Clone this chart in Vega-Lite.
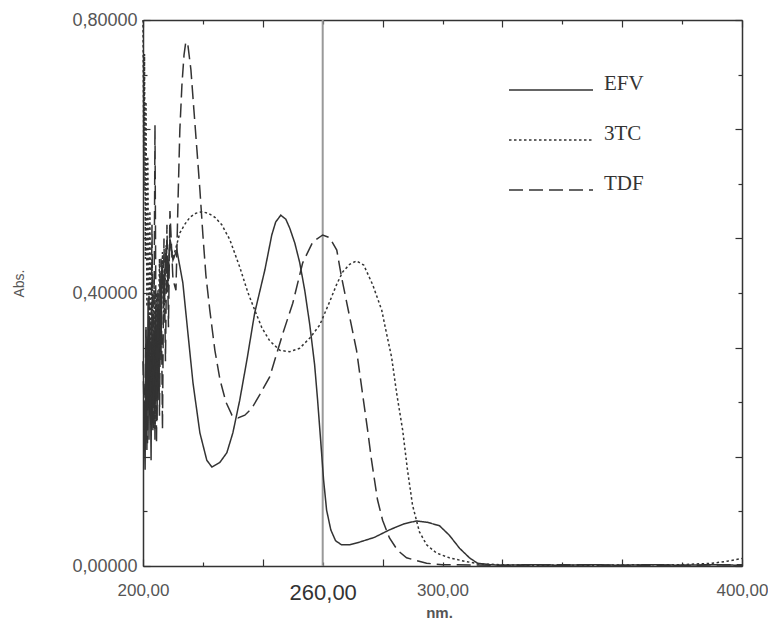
{
  "$schema": "https://vega.github.io/schema/vega-lite/v6.json",
  "width": 599,
  "height": 546,
  "autosize": "none",
  "padding": {"left": 143, "top": 20, "right": 26, "bottom": 55},
  "background": "white",
  "config": {"view": {"stroke": null}, "font": "Liberation Sans", "axis": {"grid": false}},
  "datasets": {
    "spectra": [
      {"drug":"EFV","nm":200.3,"abs":0.243},{"drug":"EFV","nm":200.7,"abs":0.141},{"drug":"EFV","nm":201,"abs":0.346},{"drug":"EFV","nm":201.3,"abs":0.17},{"drug":"EFV","nm":201.7,"abs":0.39},{"drug":"EFV","nm":202,"abs":0.185},{"drug":"EFV","nm":202.3,"abs":0.36},{"drug":"EFV","nm":202.7,"abs":0.155},{"drug":"EFV","nm":203,"abs":0.375},{"drug":"EFV","nm":203.3,"abs":0.199},{"drug":"EFV","nm":203.7,"abs":0.36},{"drug":"EFV","nm":204,"abs":0.185},{"drug":"EFV","nm":204.3,"abs":0.39},{"drug":"EFV","nm":204.7,"abs":0.214},{"drug":"EFV","nm":205,"abs":0.404},{"drug":"EFV","nm":205.3,"abs":0.243},{"drug":"EFV","nm":205.7,"abs":0.419},{"drug":"EFV","nm":206,"abs":0.302},{"drug":"EFV","nm":206.3,"abs":0.448},{"drug":"EFV","nm":207,"abs":0.39},{"drug":"EFV","nm":207.7,"abs":0.463},{"drug":"EFV","nm":208.3,"abs":0.419},{"drug":"EFV","nm":209,"abs":0.478},{"drug":"EFV","nm":210,"abs":0.448},{"drug":"EFV","nm":211.3,"abs":0.463},{"drug":"EFV","nm":213.3,"abs":0.415},{"drug":"EFV","nm":215,"abs":0.341},{"drug":"EFV","nm":216.7,"abs":0.268},{"drug":"EFV","nm":219,"abs":0.195},{"drug":"EFV","nm":221.3,"abs":0.155},{"drug":"EFV","nm":223,"abs":0.145},{"drug":"EFV","nm":225.7,"abs":0.152},{"drug":"EFV","nm":228,"abs":0.166},{"drug":"EFV","nm":230,"abs":0.195},{"drug":"EFV","nm":232.3,"abs":0.243},{"drug":"EFV","nm":234.7,"abs":0.302},{"drug":"EFV","nm":237.3,"abs":0.371},{"drug":"EFV","nm":240.7,"abs":0.434},{"drug":"EFV","nm":243,"abs":0.485},{"drug":"EFV","nm":244.3,"abs":0.504},{"drug":"EFV","nm":246,"abs":0.514},{"drug":"EFV","nm":247.7,"abs":0.508},{"drug":"EFV","nm":249,"abs":0.495},{"drug":"EFV","nm":250.7,"abs":0.473},{"drug":"EFV","nm":252.3,"abs":0.445},{"drug":"EFV","nm":254,"abs":0.404},{"drug":"EFV","nm":255.7,"abs":0.353},{"drug":"EFV","nm":257.3,"abs":0.295},{"drug":"EFV","nm":258.3,"abs":0.243},{"drug":"EFV","nm":259.3,"abs":0.185},{"drug":"EFV","nm":260.3,"abs":0.126},{"drug":"EFV","nm":261.3,"abs":0.082},{"drug":"EFV","nm":262.7,"abs":0.053},{"drug":"EFV","nm":264.3,"abs":0.037},{"drug":"EFV","nm":266.3,"abs":0.031},{"drug":"EFV","nm":269,"abs":0.031},{"drug":"EFV","nm":272.3,"abs":0.035},{"drug":"EFV","nm":277.3,"abs":0.042},{"drug":"EFV","nm":282.3,"abs":0.053},{"drug":"EFV","nm":287.3,"abs":0.062},{"drug":"EFV","nm":291.3,"abs":0.066},{"drug":"EFV","nm":295,"abs":0.064},{"drug":"EFV","nm":299,"abs":0.059},{"drug":"EFV","nm":302.3,"abs":0.045},{"drug":"EFV","nm":305.7,"abs":0.026},{"drug":"EFV","nm":309,"abs":0.012},{"drug":"EFV","nm":311.7,"abs":0.004},{"drug":"EFV","nm":315.7,"abs":0.002},{"drug":"EFV","nm":320,"abs":0.001},{"drug":"EFV","nm":330,"abs":0.002},{"drug":"EFV","nm":340,"abs":0.001},{"drug":"EFV","nm":350,"abs":0.002},{"drug":"EFV","nm":360,"abs":0.001},{"drug":"EFV","nm":370,"abs":0.002},{"drug":"EFV","nm":380,"abs":0.001},{"drug":"EFV","nm":390,"abs":0.002},{"drug":"EFV","nm":400,"abs":0.001},
      {"drug":"3TC","nm":200,"abs":0.8},{"drug":"3TC","nm":200.3,"abs":0.55},{"drug":"3TC","nm":200.5,"abs":0.75},{"drug":"3TC","nm":200.8,"abs":0.45},{"drug":"3TC","nm":201,"abs":0.68},{"drug":"3TC","nm":201.3,"abs":0.38},{"drug":"3TC","nm":201.6,"abs":0.6},{"drug":"3TC","nm":202,"abs":0.3},{"drug":"3TC","nm":202.3,"abs":0.52},{"drug":"3TC","nm":202.7,"abs":0.22},{"drug":"3TC","nm":203,"abs":0.45},{"drug":"3TC","nm":203.3,"abs":0.25},{"drug":"3TC","nm":203.7,"abs":0.42},{"drug":"3TC","nm":204,"abs":0.2},{"drug":"3TC","nm":204.5,"abs":0.4},{"drug":"3TC","nm":205,"abs":0.28},{"drug":"3TC","nm":205.5,"abs":0.45},{"drug":"3TC","nm":206,"abs":0.32},{"drug":"3TC","nm":206.5,"abs":0.46},{"drug":"3TC","nm":207,"abs":0.36},{"drug":"3TC","nm":207.7,"abs":0.47},{"drug":"3TC","nm":208.3,"abs":0.4},{"drug":"3TC","nm":209,"abs":0.48},{"drug":"3TC","nm":210,"abs":0.45},{"drug":"3TC","nm":212.3,"abs":0.488},{"drug":"3TC","nm":214,"abs":0.501},{"drug":"3TC","nm":215.7,"abs":0.511},{"drug":"3TC","nm":217.7,"abs":0.517},{"drug":"3TC","nm":219.7,"abs":0.519},{"drug":"3TC","nm":221.7,"abs":0.517},{"drug":"3TC","nm":224,"abs":0.511},{"drug":"3TC","nm":226.3,"abs":0.5},{"drug":"3TC","nm":229,"abs":0.478},{"drug":"3TC","nm":232.3,"abs":0.438},{"drug":"3TC","nm":235,"abs":0.401},{"drug":"3TC","nm":237.3,"abs":0.375},{"drug":"3TC","nm":239.7,"abs":0.349},{"drug":"3TC","nm":242.3,"abs":0.33},{"drug":"3TC","nm":245.7,"abs":0.316},{"drug":"3TC","nm":249,"abs":0.314},{"drug":"3TC","nm":252.3,"abs":0.319},{"drug":"3TC","nm":255.7,"abs":0.334},{"drug":"3TC","nm":259,"abs":0.353},{"drug":"3TC","nm":262.3,"abs":0.387},{"drug":"3TC","nm":264.7,"abs":0.413},{"drug":"3TC","nm":266.7,"abs":0.431},{"drug":"3TC","nm":269,"abs":0.442},{"drug":"3TC","nm":271.3,"abs":0.447},{"drug":"3TC","nm":273.7,"abs":0.441},{"drug":"3TC","nm":276.7,"abs":0.412},{"drug":"3TC","nm":279.7,"abs":0.375},{"drug":"3TC","nm":281.3,"abs":0.341},{"drug":"3TC","nm":283,"abs":0.306},{"drug":"3TC","nm":284.7,"abs":0.253},{"drug":"3TC","nm":286.7,"abs":0.199},{"drug":"3TC","nm":288.3,"abs":0.141},{"drug":"3TC","nm":290,"abs":0.089},{"drug":"3TC","nm":292.3,"abs":0.05},{"drug":"3TC","nm":294.7,"abs":0.031},{"drug":"3TC","nm":298,"abs":0.019},{"drug":"3TC","nm":302.3,"abs":0.012},{"drug":"3TC","nm":307.3,"abs":0.007},{"drug":"3TC","nm":312.3,"abs":0.003},{"drug":"3TC","nm":319,"abs":0.002},{"drug":"3TC","nm":330,"abs":0.001},{"drug":"3TC","nm":350,"abs":0.001},{"drug":"3TC","nm":370,"abs":0.002},{"drug":"3TC","nm":380,"abs":0.002},{"drug":"3TC","nm":390,"abs":0.004},{"drug":"3TC","nm":395,"abs":0.007},{"drug":"3TC","nm":400,"abs":0.011},
      {"drug":"TDF","nm":200,"abs":0.3},{"drug":"TDF","nm":200.5,"abs":0.2},{"drug":"TDF","nm":201,"abs":0.35},{"drug":"TDF","nm":201.5,"abs":0.18},{"drug":"TDF","nm":202,"abs":0.4},{"drug":"TDF","nm":202.5,"abs":0.22},{"drug":"TDF","nm":203,"abs":0.5},{"drug":"TDF","nm":203.5,"abs":0.2},{"drug":"TDF","nm":204,"abs":0.646},{"drug":"TDF","nm":204.5,"abs":0.18},{"drug":"TDF","nm":205,"abs":0.4},{"drug":"TDF","nm":205.5,"abs":0.22},{"drug":"TDF","nm":206,"abs":0.45},{"drug":"TDF","nm":206.5,"abs":0.2},{"drug":"TDF","nm":207,"abs":0.48},{"drug":"TDF","nm":207.5,"abs":0.3},{"drug":"TDF","nm":208,"abs":0.5},{"drug":"TDF","nm":208.5,"abs":0.35},{"drug":"TDF","nm":209,"abs":0.52},{"drug":"TDF","nm":210,"abs":0.42},{"drug":"TDF","nm":211,"abs":0.404},{"drug":"TDF","nm":211.7,"abs":0.536},{"drug":"TDF","nm":212.3,"abs":0.639},{"drug":"TDF","nm":213,"abs":0.705},{"drug":"TDF","nm":213.7,"abs":0.749},{"drug":"TDF","nm":214.3,"abs":0.768},{"drug":"TDF","nm":215,"abs":0.763},{"drug":"TDF","nm":216,"abs":0.727},{"drug":"TDF","nm":217,"abs":0.668},{"drug":"TDF","nm":218,"abs":0.61},{"drug":"TDF","nm":219,"abs":0.551},{"drug":"TDF","nm":220,"abs":0.485},{"drug":"TDF","nm":221,"abs":0.426},{"drug":"TDF","nm":222.3,"abs":0.375},{"drug":"TDF","nm":224,"abs":0.316},{"drug":"TDF","nm":225.7,"abs":0.273},{"drug":"TDF","nm":227.7,"abs":0.24},{"drug":"TDF","nm":229.7,"abs":0.221},{"drug":"TDF","nm":231.7,"abs":0.217},{"drug":"TDF","nm":234,"abs":0.221},{"drug":"TDF","nm":236.3,"abs":0.231},{"drug":"TDF","nm":239,"abs":0.251},{"drug":"TDF","nm":242.3,"abs":0.277},{"drug":"TDF","nm":246.7,"abs":0.341},{"drug":"TDF","nm":250,"abs":0.385},{"drug":"TDF","nm":253.3,"abs":0.444},{"drug":"TDF","nm":256.7,"abs":0.475},{"drug":"TDF","nm":260,"abs":0.485},{"drug":"TDF","nm":262.3,"abs":0.481},{"drug":"TDF","nm":264.7,"abs":0.463},{"drug":"TDF","nm":266.3,"abs":0.423},{"drug":"TDF","nm":269,"abs":0.365},{"drug":"TDF","nm":271.3,"abs":0.316},{"drug":"TDF","nm":273,"abs":0.262},{"drug":"TDF","nm":275,"abs":0.199},{"drug":"TDF","nm":276.3,"abs":0.155},{"drug":"TDF","nm":278.3,"abs":0.097},{"drug":"TDF","nm":280,"abs":0.067},{"drug":"TDF","nm":282.3,"abs":0.041},{"drug":"TDF","nm":285,"abs":0.023},{"drug":"TDF","nm":288,"abs":0.012},{"drug":"TDF","nm":294.7,"abs":0.004},{"drug":"TDF","nm":300,"abs":0.002},{"drug":"TDF","nm":320,"abs":0.001},{"drug":"TDF","nm":340,"abs":0.002},{"drug":"TDF","nm":360,"abs":0.001},{"drug":"TDF","nm":380,"abs":0.001},{"drug":"TDF","nm":400,"abs":0.002}
    ],
    "marker": [{"nm": 260}]
  },
  "layer": [
    {
      "data": {"name": "marker"},
      "mark": {"type": "rule", "color": "#999999", "strokeWidth": 2},
      "encoding": {
        "x": {"field": "nm", "type": "quantitative",
          "axis": {"orient": "top", "values": [200,220,240,260,280,300,320,340,360,380,400], "labels": false, "title": null,
            "domainColor": "#333", "domainWidth": 1.5, "tickColor": "#333", "tickWidth": 1.2,
            "tickSize": {"condition": {"test": "datum.value % 40 == 0", "value": -7}, "value": -4}}},
        "y": {"datum": 0, "type": "quantitative",
          "axis": {"orient": "right", "values": [0,0.08,0.16,0.24,0.32,0.4,0.48,0.56,0.64,0.72,0.8], "labels": false, "title": null,
            "domainColor": "#333", "domainWidth": 1.5, "tickColor": "#333", "tickWidth": 1.2,
            "tickSize": {"condition": {"test": "round(datum.value*100) % 16 == 0", "value": -7}, "value": -4}}},
        "y2": {"datum": 0.8}
      }
    },
    {
      "data": {"name": "spectra"},
      "mark": {"type": "line", "strokeWidth": 1.5, "color": "#333333"},
      "encoding": {
        "x": {"field": "nm", "type": "quantitative",
          "scale": {"domain": [200, 400], "nice": false, "zero": false},
          "axis": {"orient": "bottom", "values": [200,220,240,260,280,300,320,340,360,380,400],
            "labelExpr": "indexof([200,260,300,400], datum.value) >= 0 ? replace(format(datum.value, '.2f'), '.', ',') : ''",
            "labelFontSize": {"condition": {"test": "datum.value == 260", "value": 22}, "value": 17},
            "labelColor": {"condition": {"test": "datum.value == 260", "value": "#333"}, "value": "#555"},
            "labelPadding": {"condition": {"test": "datum.value % 40 == 0", "value": 23}, "value": 20},
            "labelOverlap": false, "labelFlush": false,
            "domainColor": "#333", "domainWidth": 1.5, "tickColor": "#333", "tickWidth": 1.2,
            "tickSize": {"condition": {"test": "datum.value % 40 == 0", "value": -7}, "value": -4},
            "title": "nm.", "titleFontSize": 15, "titleFontWeight": "bold", "titleColor": "#555",
            "titleX": 296, "titleY": 46, "titleBaseline": "middle"}},
        "y": {"field": "abs", "type": "quantitative",
          "scale": {"domain": [0, 0.8], "nice": false},
          "axis": {"orient": "left", "values": [0,0.08,0.16,0.24,0.32,0.4,0.48,0.56,0.64,0.72,0.8],
            "labelExpr": "round(datum.value*100) % 40 == 0 ? replace(format(datum.value, '.5f'), '.', ',') : ''",
            "labelFontSize": 18, "labelColor": "#555",
            "labelPadding": {"condition": {"test": "round(datum.value*100) % 16 == 0", "value": 13}, "value": 10},
            "labelOverlap": false, "labelFlush": false,
            "domainColor": "#333", "domainWidth": 1.5, "tickColor": "#333", "tickWidth": 1.2,
            "tickSize": {"condition": {"test": "round(datum.value*100) % 16 == 0", "value": -7}, "value": -4},
            "title": "Abs.", "titleFontSize": 14, "titleFontWeight": "normal", "titleColor": "#555",
            "titleX": -124, "titleY": 263, "titleBaseline": "middle", "titleAlign": "center"}},
        "strokeDash": {"field": "drug", "type": "nominal",
          "scale": {"domain": ["EFV", "3TC", "TDF"], "range": [[1, 0], [2.5, 2.5], [14, 6]]},
          "legend": {"orient": "none", "legendX": 365, "legendY": 62, "title": null, "padding": 0,
            "symbolType": "stroke", "symbolSize": 7056, "clipHeight": 16, "rowPadding": 25,
            "symbolStrokeColor": "#333", "symbolStrokeWidth": 1.5, "labelOffset": 10,
            "labelFont": "Liberation Serif", "labelFontSize": 21, "labelColor": "#333", "labelBaseline": "alphabetic"}}
      }
    }
  ],
  "resolve": {"axis": {"x": "independent", "y": "independent"}}
}
